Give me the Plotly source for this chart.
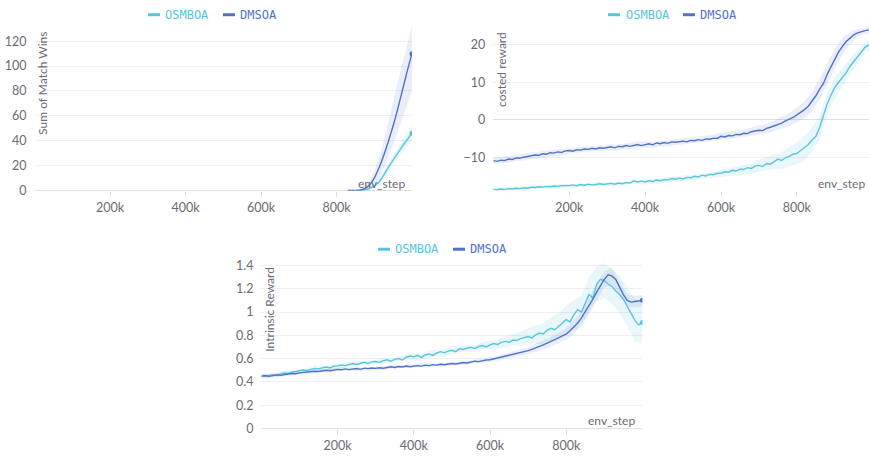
import plotly.graph_objects as go

W, H = 869, 459

# ---------------- data ----------------
series_names = ["OSMBOA", "DMSOA"]
series_colors = ["#58C4DD", "#5272C9"]
band_colors = ["rgba(88,196,221,0.13)", "rgba(82,114,201,0.12)"]

x_tickvals = [200000, 400000, 600000, 800000]
x_ticktext = ["200k", "400k", "600k", "800k"]

# Chart 1 : Sum of Match Wins
wins_steps = [830000, 840000, 850000, 860000, 870000, 880000, 890000, 900000, 910000,
              920000, 930000, 940000, 950000, 960000, 970000, 980000, 990000, 1000000]
wins_osmboa = [0, 0, 0, 0.1, 0.3, 0.9, 2.0, 3.6, 6.0, 10.0, 15.0, 19.8, 24.5, 29.0, 33.5, 38.0, 42.0, 46.0]
wins_osmboa_lo = [0, 0, 0, 0, 0, 0.2, 0.8, 2.0, 4.0, 7.0, 11.5, 16.5, 21.0, 25.0, 29.0, 33.0, 36.5, 40.0]
wins_osmboa_hi = [0, 0, 0, 0.3, 0.8, 1.8, 3.3, 5.3, 8.0, 13.0, 18.5, 23.5, 28.5, 33.5, 38.5, 43.5, 48.0, 52.0]
wins_dmsoa = [0, 0, 0, 0.2, 0.8, 2.5, 5.5, 10.0, 16.5, 24.0, 32.5, 42.0, 52.0, 63.0, 75.0, 87.0, 99.0, 110.0]
wins_dmsoa_lo = [0, 0, 0, 0, 0, 0.5, 1.5, 4.0, 8.0, 14.0, 21.0, 29.0, 37.0, 45.0, 54.0, 62.0, 71.0, 80.0]
wins_dmsoa_hi = [0, 0, 0.3, 1.0, 2.5, 5.0, 9.0, 15.0, 24.0, 34.0, 46.0, 58.0, 71.0, 84.0, 97.0, 110.0, 121.0, 132.0]
wins_yticks = [0, 20, 40, 60, 80, 100, 120]

# Charts 2 and 3 share the env_step grid (every 10k) and band grid (every 20k)
steps = list(range(0, 1000001, 10000))
band_steps = list(range(0, 1000001, 20000))

# Chart 2 : costed reward
costed_osmboa = [
    -18.6, -18.7, -18.5, -18.6, -18.4, -18.5, -18.3, -18.4, -18.2, -18.3,
    -18.0, -18.1, -17.9, -18.0, -17.8, -17.9, -17.7, -17.8, -17.6, -17.7,
    -17.6, -17.4, -17.6, -17.3, -17.5, -17.2, -17.4, -17.3, -17.1, -17.3,
    -17.2, -17.0, -17.2, -16.9, -17.1, -16.8, -16.9, -16.3, -16.6, -16.4,
    -16.6, -16.3, -16.5, -16.1, -16.3, -16.0, -16.1, -15.7, -15.9, -15.6,
    -15.8, -15.4, -15.5, -15.1, -15.3, -14.8, -15.0, -14.6, -14.7, -14.3,
    -14.3, -13.9, -14.0, -13.5, -13.7, -13.2, -13.3, -12.8, -13.0, -12.4,
    -12.2, -12.5, -11.7, -11.9, -11.2, -10.5, -10.9, -10.1, -9.8, -9.2,
    -9.0, -8.2, -7.6, -6.6, -5.4, -4.4, -2.0, 1.5, 4.3, 6.6,
    8.7, 10.0, 11.3, 12.6, 14.3, 15.5, 16.8, 18.2, 19.4, 20.0,
    20.2]
costed_dmsoa = [
    -10.9, -11.1, -10.8, -10.9, -10.5, -10.6, -10.2, -10.3, -10.0, -9.7,
    -9.6, -9.4, -9.5, -9.1, -9.2, -8.8, -8.9, -8.6, -8.7, -8.3,
    -8.2, -8.4, -8.0, -8.1, -7.8, -7.9, -7.6, -7.8, -7.5, -7.6,
    -7.4, -7.2, -7.5, -7.1, -7.2, -6.9, -7.1, -6.8, -6.6, -6.9,
    -6.6, -6.4, -6.7, -6.2, -6.4, -6.1, -6.3, -5.9, -6.0, -5.8,
    -5.7, -5.9, -5.5, -5.6, -5.3, -5.5, -5.1, -5.2, -4.9, -5.0,
    -4.4, -4.6, -4.2, -4.3, -3.9, -4.0, -3.6, -3.7, -3.2, -3.0,
    -2.8, -2.9, -2.3, -2.0, -1.7, -1.4, -0.9, -0.3, 0.1, 0.6,
    1.3, 1.9, 2.7, 3.6, 4.9, 6.4, 8.2, 9.7, 12.2, 14.1,
    16.3, 18.1, 19.6, 20.9, 21.8, 22.7, 23.2, 23.6, 23.8, 24.0,
    24.0]
costed_osmboa_spread = [
    0.5, 0.5, 0.5, 0.5, 0.5, 0.5, 0.5, 0.5, 0.5, 0.5,
    0.5, 0.5, 0.5, 0.5, 0.5, 0.5, 0.5, 0.5, 0.5, 0.5,
    0.7, 0.7, 0.7, 0.7, 0.7, 0.7, 0.7, 0.7, 0.7, 0.7,
    0.9, 1.0, 1.1, 1.2, 1.4, 1.6, 1.8, 2.0, 2.3, 2.6,
    2.9, 3.2, 3.3, 3.2, 3.0, 2.8, 2.5, 2.2, 1.8, 1.4,
    1.2]
costed_dmsoa_spread = [
    0.9, 0.9, 0.9, 0.9, 0.9, 0.9, 0.9, 0.9, 0.9, 0.9,
    0.8, 0.8, 0.8, 0.8, 0.8, 0.8, 0.8, 0.8, 0.8, 0.8,
    0.8, 0.8, 0.8, 0.8, 0.8, 0.8, 0.8, 0.8, 0.8, 0.8,
    0.9, 0.9, 1.0, 1.0, 1.1, 1.2, 1.3, 1.4, 1.6, 1.8,
    2.0, 2.3, 2.6, 2.8, 2.8, 2.6, 2.2, 1.6, 1.1, 0.9,
    0.8]
costed_yticks = [-10, 0, 10, 20]

# Chart 3 : Intrinsic Reward
intr_osmboa = [
    0.450, 0.448, 0.455, 0.462, 0.458, 0.470, 0.476, 0.472, 0.485, 0.490,
    0.495, 0.502, 0.498, 0.510, 0.516, 0.512, 0.522, 0.528, 0.520, 0.535,
    0.538, 0.546, 0.540, 0.552, 0.558, 0.550, 0.562, 0.568, 0.558, 0.572,
    0.575, 0.568, 0.582, 0.590, 0.578, 0.594, 0.600, 0.588, 0.612, 0.622,
    0.615, 0.628, 0.610, 0.632, 0.640, 0.628, 0.648, 0.660, 0.650, 0.665,
    0.672, 0.660, 0.685, 0.678, 0.690, 0.698, 0.686, 0.705, 0.712, 0.700,
    0.718, 0.730, 0.722, 0.740, 0.748, 0.738, 0.760, 0.755, 0.772, 0.780,
    0.790, 0.778, 0.805, 0.820, 0.812, 0.845, 0.860, 0.848, 0.880, 0.905,
    0.935, 0.915, 0.975, 1.020, 1.000, 1.080, 1.150, 1.120, 1.240, 1.280,
    1.270, 1.240, 1.220, 1.180, 1.150, 1.110, 1.050, 0.980, 0.930, 0.890,
    0.910]
intr_dmsoa = [
    0.450, 0.455, 0.448, 0.452, 0.460, 0.456, 0.465, 0.468, 0.472, 0.470,
    0.478, 0.482, 0.480, 0.488, 0.492, 0.490, 0.498, 0.500, 0.496, 0.505,
    0.508, 0.504, 0.512, 0.506, 0.510, 0.515, 0.508, 0.518, 0.514, 0.520,
    0.516, 0.522, 0.518, 0.526, 0.530, 0.524, 0.532, 0.528, 0.536, 0.530,
    0.535, 0.540, 0.536, 0.544, 0.540, 0.548, 0.544, 0.552, 0.548, 0.556,
    0.558, 0.554, 0.562, 0.566, 0.562, 0.572, 0.578, 0.574, 0.584, 0.588,
    0.590, 0.598, 0.604, 0.612, 0.620, 0.628, 0.636, 0.640, 0.652, 0.660,
    0.668, 0.680, 0.690, 0.705, 0.718, 0.732, 0.745, 0.760, 0.778, 0.795,
    0.810, 0.840, 0.870, 0.905, 0.950, 1.000, 1.050, 1.110, 1.170, 1.225,
    1.280, 1.320, 1.310, 1.280, 1.210, 1.150, 1.100, 1.085, 1.090, 1.095,
    1.100]
intr_osmboa_spread = [
    0.02, 0.02, 0.02, 0.02, 0.02, 0.02, 0.02, 0.02, 0.02, 0.02,
    0.02, 0.02, 0.02, 0.02, 0.02, 0.02, 0.02, 0.02, 0.02, 0.02,
    0.03, 0.03, 0.03, 0.03, 0.03, 0.03, 0.03, 0.03, 0.03, 0.03,
    0.04, 0.04, 0.05, 0.05, 0.06, 0.07, 0.08, 0.09, 0.10, 0.11,
    0.12, 0.13, 0.14, 0.15, 0.15, 0.15, 0.15, 0.16, 0.17, 0.18,
    0.18]
intr_dmsoa_spread = [
    0.015, 0.015, 0.015, 0.015, 0.015, 0.015, 0.015, 0.015, 0.015, 0.015,
    0.015, 0.015, 0.015, 0.015, 0.015, 0.015, 0.015, 0.015, 0.015, 0.015,
    0.015, 0.015, 0.015, 0.015, 0.015, 0.015, 0.015, 0.015, 0.015, 0.015,
    0.02, 0.02, 0.025, 0.025, 0.03, 0.03, 0.035, 0.04, 0.04, 0.045,
    0.05, 0.06, 0.06, 0.07, 0.07, 0.07, 0.07, 0.06, 0.05, 0.05,
    0.05]
intr_yticks = [0, 0.2, 0.4, 0.6, 0.8, 1.0, 1.2, 1.4]
intr_yticktext = ["0", "0.2", "0.4", "0.6", "0.8", "1", "1.2", "1.4"]

# ---------------- figure ----------------
fig = go.Figure()

def px(x):
    return x / W

def py(y):
    return 1 - y / H

def add_band(xs, lo, hi, color, xa, ya):
    fig.add_trace(go.Scatter(x=xs, y=lo, mode="lines", line=dict(width=0, color=color),
                             showlegend=False, hoverinfo="skip", xaxis=xa, yaxis=ya))
    fig.add_trace(go.Scatter(x=xs, y=hi, mode="lines", line=dict(width=0, color=color),
                             fill="tonexty", fillcolor=color, showlegend=False,
                             hoverinfo="skip", xaxis=xa, yaxis=ya))

def add_line(xs, ys, color, xa, ya, shape="linear"):
    fig.add_trace(go.Scatter(x=xs, y=ys, mode="lines", line=dict(width=1.4, color=color, shape=shape),
                             showlegend=False, xaxis=xa, yaxis=ya))
    fig.add_trace(go.Scatter(x=[xs[-1]], y=[ys[-1]], mode="markers",
                             marker=dict(size=5, color=color), showlegend=False,
                             xaxis=xa, yaxis=ya))

# Chart 1
add_band(wins_steps, wins_dmsoa_lo, wins_dmsoa_hi, band_colors[1], "x", "y")
add_band(wins_steps, wins_osmboa_lo, wins_osmboa_hi, band_colors[0], "x", "y")
add_line(wins_steps, wins_osmboa, series_colors[0], "x", "y", "spline")
add_line(wins_steps, wins_dmsoa, series_colors[1], "x", "y", "spline")

# Chart 2 / 3 bands built from line values on the band grid
def band_bounds(vals, spread):
    centre = vals[::2]
    return [c - s for c, s in zip(centre, spread)], [c + s for c, s in zip(centre, spread)]

lo, hi = band_bounds(costed_osmboa, costed_osmboa_spread)
add_band(band_steps, lo, hi, band_colors[0], "x2", "y2")
lo, hi = band_bounds(costed_dmsoa, costed_dmsoa_spread)
add_band(band_steps, lo, hi, band_colors[1], "x2", "y2")
add_line(steps, costed_osmboa, series_colors[0], "x2", "y2")
add_line(steps, costed_dmsoa, series_colors[1], "x2", "y2")

lo, hi = band_bounds(intr_osmboa, intr_osmboa_spread)
add_band(band_steps, lo, hi, band_colors[0], "x3", "y3")
lo, hi = band_bounds(intr_dmsoa, intr_dmsoa_spread)
add_band(band_steps, lo, hi, band_colors[1], "x3", "y3")
add_line(steps, intr_osmboa, series_colors[0], "x3", "y3")
add_line(steps, intr_dmsoa, series_colors[1], "x3", "y3")

TICKFONT = dict(family="Lato, 'Noto Sans', sans-serif", size=12.5, color="#6b6b73")
GRID = "#efefef"

def xaxis(domain, rng, anchor):
    return dict(domain=domain, range=rng, anchor=anchor, tickvals=x_tickvals, ticktext=x_ticktext,
                showgrid=False, zeroline=False, showline=False, ticks="outside", ticklen=5,
                tickcolor="#dddddd", tickwidth=1, tickfont=TICKFONT, fixedrange=True)

def yaxis(domain, rng, anchor, tickvals, ticktext=None):
    d = dict(domain=domain, range=rng, anchor=anchor, tickvals=tickvals,
             showgrid=True, gridcolor=GRID, gridwidth=1, zeroline=True, zerolinecolor="#e0e0e0",
             zerolinewidth=1, showline=False, ticks="", tickfont=TICKFONT,
             ticklabelstandoff=7, fixedrange=True)
    if ticktext is not None:
        d["ticktext"] = ticktext
    return d

dom1x = [px(34.5), px(412)]
dom2x = [px(493.3), 1.0]
dom3x = [px(261.4), px(642.4)]
domtop = [py(191.7), py(22.5)]
dombot = [py(435), py(263.5)]

fig.update_layout(
    width=W, height=H,
    margin=dict(l=0, r=0, t=0, b=0),
    paper_bgcolor="white", plot_bgcolor="white",
    showlegend=False,
    xaxis=xaxis(dom1x, [0, 1000000], "y"),
    yaxis=yaxis(domtop, [0, 133], "x", wins_yticks),
    xaxis2=xaxis(dom2x, [0, 990000], "y2"),
    yaxis2=yaxis(domtop, [-18.9, 25.3], "x2", costed_yticks),
    xaxis3=xaxis(dom3x, [0, 1000000], "y3"),
    yaxis3=yaxis(dombot, [0, 1.44], "x3", intr_yticks, intr_yticktext),
)

TITLEFONT = dict(family="Lato, 'Noto Sans', sans-serif", size=12, color="#6b6b73")
LEGFONT = "'DejaVu Sans Mono', monospace"

annotations = []
shapes = []

# axis titles (rotated, inside the plot, top-aligned)
for text, xc, ytop in [("Sum of Match Wins", 43, 28), ("costed reward", 502, 28),
                       ("Intrinsic Reward", 270, 268)]:
    annotations.append(dict(text=text, x=px(xc), y=py(ytop), xref="paper", yref="paper",
                            xanchor="center", yanchor="top", textangle=-90, showarrow=False,
                            font=TITLEFONT))

# env_step labels
for xr, yc in [(407, 185), (867, 185), (637, 427)]:
    annotations.append(dict(text="env_step", x=px(xr), y=py(yc), xref="paper", yref="paper",
                            xanchor="right", yanchor="middle", showarrow=False, font=TITLEFONT))

# legends
for (l1, t1, l2, t2, yc) in [(148, 165, 223, 240, 12), (608, 626, 683, 700, 12),
                             (378, 395, 453, 470, 251.7)]:
    for lx, tx, name, col in [(l1, t1, series_names[0], series_colors[0]),
                              (l2, t2, series_names[1], series_colors[1])]:
        shapes.append(dict(type="line", xref="paper", yref="paper", x0=px(lx), x1=px(lx + 12),
                           y0=py(yc), y1=py(yc), line=dict(color=col, width=3)))
        annotations.append(dict(text=name, x=px(tx - 2), y=py(yc), xref="paper", yref="paper",
                                xanchor="left", yanchor="middle", showarrow=False,
                                font=dict(family=LEGFONT, size=12, color=col)))

fig.update_layout(annotations=annotations, shapes=shapes)

fig.write_html(
    "out.html",
    config={"displayModeBar": False},
    post_script="document.body.style.margin='0';document.body.style.overflow='hidden';",
)
